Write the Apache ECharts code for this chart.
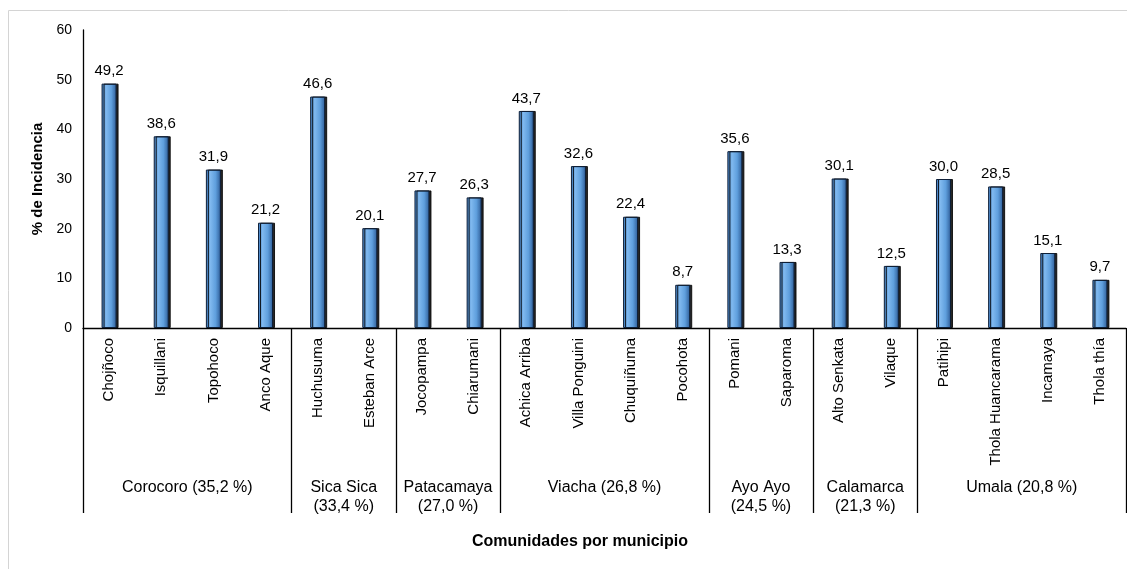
<!DOCTYPE html>
<html>
<head>
<meta charset="utf-8">
<script src="https://cdn.jsdelivr.net/npm/echarts@6/dist/echarts.min.js"></script>
<style>
  html, body { margin: 0; padding: 0; background: #fff; }
  #chart { width: 1127px; height: 569px; }
</style>
</head>
<body>
<div id="chart"></div>
<script>
// Comunidades (eje X) y su porcentaje de incidencia
const comunidades = [
  'Chojñoco', 'Isquillani', 'Topohoco', 'Anco Aque',
  'Huchusuma', 'Esteban Arce',
  'Jocopampa', 'Chiarumani',
  'Achica Arriba', 'Villa Ponguini', 'Chuquiñuma', 'Pocohota',
  'Pomani', 'Saparoma',
  'Alto Senkata', 'Vilaque',
  'Patihipi', 'Thola Huancarama', 'Incamaya', 'Thola thía'
];
const incidencia = [
  49.2, 38.6, 31.9, 21.2,
  46.6, 20.1,
  27.7, 26.3,
  43.7, 32.6, 22.4, 8.7,
  35.6, 13.3,
  30.1, 12.5,
  30.0, 28.5, 15.1, 9.7
];
// Municipios: nombre con promedio y cantidad de comunidades
const municipios = [
  'Corocoro (35,2 %)', 'Sica Sica\n(33,4 %)', 'Patacamaya\n(27,0 %)',
  'Viacha (26,8 %)', 'Ayo Ayo\n(24,5 %)', 'Calamarca\n(21,3 %)', 'Umala (20,8 %)'
];
const comunidadesPorMunicipio = [4, 2, 2, 4, 2, 2, 4];
const yTicks = { min: 0, max: 60, interval: 10 };

// índices donde empieza cada municipio (líneas divisorias)
const inicios = [];
comunidadesPorMunicipio.reduce((acc, n) => { inicios.push(acc); return acc + n; }, 0);

const fmt = v => v.toFixed(1).replace('.', ',');
const FONT = 'Arial, "Liberation Sans", sans-serif';

const chart = echarts.init(document.getElementById('chart'), null, { renderer: 'canvas' });

const barColor = {
  type: 'linear', x: 0, y: 0, x2: 1, y2: 0,
  colorStops: [
    { offset: 0, color: '#3b78bd' },
    { offset: 0.3, color: '#80b9ef' },
    { offset: 0.65, color: '#5f9fdd' },
    { offset: 1, color: '#2d5b95' }
  ]
};

chart.setOption({
  animation: false,
  grid: { left: 83, right: 1, top: 30, bottom: 241, containLabel: false },
  xAxis: {
    type: 'category',
    data: comunidades,
    boundaryGap: true,
    axisLine: { show: true, lineStyle: { color: '#000', width: 1.3 } },
    axisTick: {
      show: true,
      length: 185,
      interval: (idx) => inicios.indexOf(idx) >= 0,
      lineStyle: { color: '#000', width: 1.3 }
    },
    axisLabel: {
      interval: 0,
      rotate: 90,
      margin: 10,
      color: '#000',
      fontFamily: FONT,
      fontSize: 15
    }
  },
  yAxis: {
    type: 'value',
    min: yTicks.min, max: yTicks.max, interval: yTicks.interval,
    name: '% de Incidencia',
    nameLocation: 'middle',
    nameGap: 34,
    nameRotate: 90,
    nameTextStyle: {
      color: '#000', fontWeight: 'bold', fontSize: 15, fontFamily: FONT
    },
    axisLine: { show: true, lineStyle: { color: '#000', width: 1.3 } },
    axisTick: { show: false },
    splitLine: { show: false },
    axisLabel: { margin: 11, color: '#000', fontSize: 14, fontFamily: FONT }
  },
  series: [{
    type: 'bar',
    data: incidencia,
    barWidth: 15,
    itemStyle: {
      color: barColor,
      borderColor: '#0e1f38',
      borderWidth: 1,
      shadowColor: 'rgba(0,0,0,0.85)',
      shadowOffsetX: 2,
      shadowOffsetY: 0,
      shadowBlur: 0
    },
    label: {
      show: true,
      position: 'top',
      distance: 5,
      color: '#000',
      fontSize: 15,
      fontFamily: FONT,
      formatter: p => fmt(p.value)
    }
  }]
});

// Etiquetas de municipio centradas bajo sus comunidades, y título del eje X
const graphics = [{
  type: 'rect',
  shape: { x: 8.5, y: 10.5, width: 1140, height: 580 },
  style: { fill: 'none', stroke: '#d4d4d4', lineWidth: 1 },
  silent: true, z: -1
}];
municipios.forEach((nombre, i) => {
  const a = inicios[i];
  const b = a + comunidadesPorMunicipio[i] - 1;
  const xa = chart.convertToPixel({ xAxisIndex: 0 }, comunidades[a]);
  const xb = chart.convertToPixel({ xAxisIndex: 0 }, comunidades[b]);
  graphics.push({
    type: 'text',
    x: (xa + xb) / 2,
    y: 478,
    style: {
      text: nombre,
      align: 'center',
      verticalAlign: 'top',
      fill: '#000',
      fontSize: 16,
      lineHeight: 19,
      fontFamily: FONT
    }
  });
});
graphics.push({
  type: 'text',
  x: 580,
  y: 542,
  style: {
    text: 'Comunidades por municipio',
    align: 'center',
    verticalAlign: 'middle',
    fill: '#000',
    fontSize: 16,
    fontWeight: 'bold',
    fontFamily: FONT
  }
});
chart.setOption({ graphic: graphics });
</script>
</body>
</html>
